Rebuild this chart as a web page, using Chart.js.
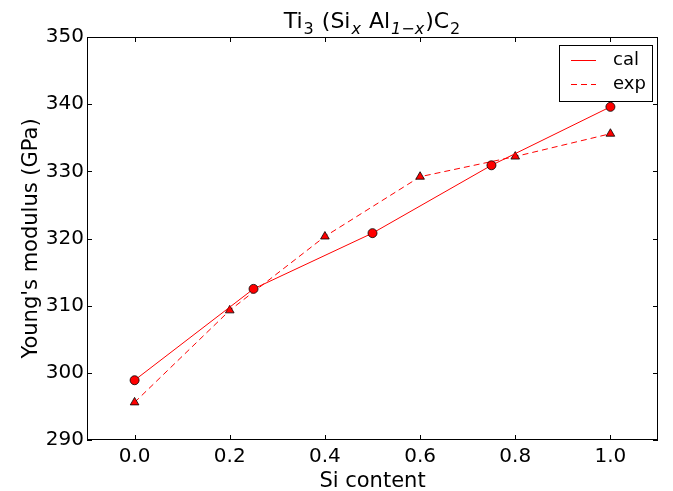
<!DOCTYPE html>
<html>
<head>
<meta charset="utf-8">
<script src="https://cdn.jsdelivr.net/npm/chart.js@4"></script>
<style>
  html, body { margin: 0; padding: 0; background: #fff; }
  #wrap { width: 673px; height: 491px; }
</style>
</head>
<body>
<div id="wrap"><canvas id="chart" width="673" height="491"></canvas></div>
<script>
// data
const calX = [0.0, 0.25, 0.5, 0.75, 1.0];
const calY = [298.9, 312.5, 320.8, 330.9, 339.6];
const expX = [0.0, 0.2, 0.4, 0.6, 0.8, 1.0];
const expY = [295.6, 309.3, 320.3, 329.2, 332.2, 335.6];
const xTicks = [0.0, 0.2, 0.4, 0.6, 0.8, 1.0];
const yTicks = [290, 300, 310, 320, 330, 340, 350];
const seriesNames = ['cal', 'exp'];

const FONT = 'DejaVu Sans';

const toPoints = (xs, ys) => xs.map((x, i) => ({ x: x, y: ys[i] }));

// frame, inward ticks, title, axis labels and legend (matplotlib classic look)
const decor = {
  id: 'decor',
  afterDraw(chart) {
    const ctx = chart.ctx;
    const a = chart.chartArea;
    const sx = chart.scales.x, sy = chart.scales.y;
    ctx.save();
    ctx.strokeStyle = '#000';
    ctx.lineWidth = 1;
    ctx.strokeRect(Math.round(a.left) + 0.5, Math.round(a.top) + 0.5,
      Math.round(a.right - a.left) - 1, Math.round(a.bottom - a.top) - 1);

    ctx.beginPath();
    xTicks.forEach(v => {
      const px = Math.round(sx.getPixelForValue(v)) + 0.5;
      ctx.moveTo(px, a.bottom); ctx.lineTo(px, a.bottom - 5);
      ctx.moveTo(px, a.top); ctx.lineTo(px, a.top + 5);
    });
    yTicks.forEach(v => {
      const py = Math.round(sy.getPixelForValue(v)) + 0.5;
      ctx.moveTo(a.left, py); ctx.lineTo(a.left + 5, py);
      ctx.moveTo(a.right, py); ctx.lineTo(a.right - 5, py);
    });
    ctx.stroke();

    // title with sub-scripts
    ctx.fillStyle = '#000';
    ctx.textBaseline = 'alphabetic';
    const parts = [
      ['Ti', false, 'normal'], ['3', true, 'normal'], [' (Si', false, 'normal'],
      ['x', true, 'italic'], [' Al', false, 'normal'], ['1\u2212x', true, 'italic'],
      [')C', false, 'normal'], ['2', true, 'normal']
    ];
    const big = '22px ' + FONT, small = '16px ' + FONT;
    let total = 0;
    parts.forEach(p => {
      ctx.font = (p[2] === 'italic' ? 'italic ' : '') + (p[1] ? small : big);
      total += ctx.measureText(p[0]).width + (p[1] ? 2 : 0);
    });
    let tx = (a.left + a.right) / 2 - total / 2;
    const base = 28;
    parts.forEach(p => {
      ctx.font = (p[2] === 'italic' ? 'italic ' : '') + (p[1] ? small : big);
      ctx.fillText(p[0], tx + (p[1] ? 1 : 0), p[1] ? base + 6 : base);
      tx += ctx.measureText(p[0]).width + (p[1] ? 2 : 0);
    });

    // axis labels
    ctx.font = '21px ' + FONT;
    ctx.textAlign = 'center';
    ctx.fillText('Si content', (a.left + a.right) / 2, 487);
    ctx.save();
    ctx.translate(37, (a.top + a.bottom) / 2);
    ctx.rotate(-Math.PI / 2);
    ctx.fillText("Young's modulus (GPa)", 0, 0);
    ctx.restore();

    // legend
    ctx.strokeRect(559.5, 45.5, 93, 56);
    ctx.strokeStyle = 'red';
    ctx.beginPath();
    ctx.moveTo(571, 60.5); ctx.lineTo(596, 60.5);
    ctx.stroke();
    ctx.setLineDash([6, 4]);
    ctx.beginPath();
    ctx.moveTo(571, 84.5); ctx.lineTo(596, 84.5);
    ctx.stroke();
    ctx.setLineDash([]);
    ctx.font = '18px ' + FONT;
    ctx.textAlign = 'left';
    ctx.textBaseline = 'middle';
    ctx.fillText(seriesNames[0], 613, 60);
    ctx.fillText(seriesNames[1], 613, 84);
    ctx.restore();
  }
};

new Chart(document.getElementById('chart'), {
  type: 'scatter',
  data: {
    datasets: [
      {
        label: seriesNames[0],
        data: toPoints(calX, calY),
        showLine: true,
        borderColor: 'red',
        borderWidth: 1,
        pointStyle: 'circle',
        pointRadius: 4.5,
        pointBackgroundColor: 'red',
        pointBorderColor: '#000',
        pointBorderWidth: 0.8
      },
      {
        label: seriesNames[1],
        data: toPoints(expX, expY),
        showLine: true,
        borderColor: 'red',
        borderWidth: 1,
        borderDash: [6, 4],
        pointStyle: 'triangle',
        pointRadius: 5,
        pointBackgroundColor: 'red',
        pointBorderColor: '#000',
        pointBorderWidth: 0.8
      }
    ]
  },
  options: {
    responsive: false,
    animation: false,
    layout: { padding: { top: 37, right: 15, left: 0, bottom: 0 } },
    plugins: {
      legend: { display: false },
      title: { display: false },
      tooltip: { enabled: false }
    },
    scales: {
      x: {
        type: 'linear',
        min: -0.1,
        max: 1.1,
        afterBuildTicks: s => { s.ticks = xTicks.map(v => ({ value: v })); },
        afterFit: s => { s.height = 51; },
        grid: { display: false, drawTicks: false },
        border: { display: false },
        ticks: {
          padding: 5,
          color: '#000',
          font: { family: FONT, size: 20 },
          callback: v => v.toFixed(1)
        }
      },
      y: {
        type: 'linear',
        min: 290,
        max: 350,
        afterBuildTicks: s => { s.ticks = yTicks.map(v => ({ value: v })); },
        afterFit: s => { s.width = 87; },
        grid: { display: false, drawTicks: false },
        border: { display: false },
        ticks: {
          padding: 3,
          color: '#000',
          font: { family: FONT, size: 20 }
        }
      }
    }
  },
  plugins: [decor]
});
</script>
</body>
</html>
